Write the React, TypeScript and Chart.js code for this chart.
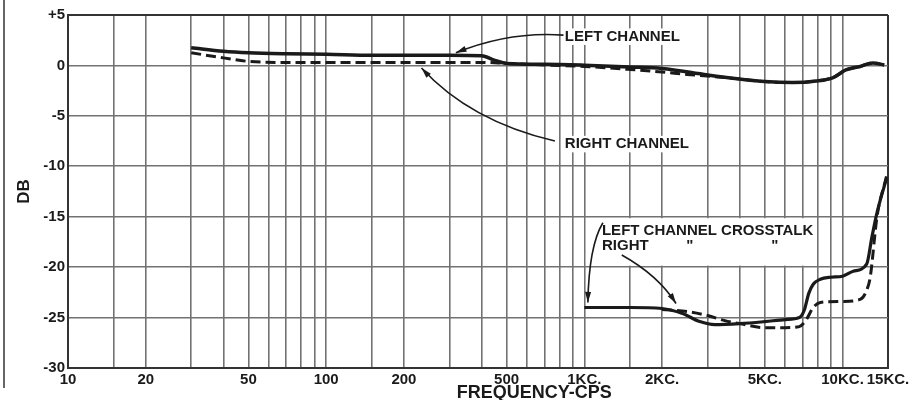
import React, { useEffect, useRef } from 'react';
import { Chart, registerables } from 'chart.js';

Chart.register(...registerables);

// ---- data ----
const leftFreq = [30, 40, 50, 70, 100, 150, 200, 300, 400, 450, 500, 700, 1000, 1500, 2000, 3000, 4000, 5000, 6400, 7900, 9200, 10300, 11700, 13100, 14500];
const leftDb = [1.75, 1.4, 1.25, 1.15, 1.1, 1.0, 1.0, 1.0, 0.95, 0.5, 0.2, 0.12, 0.02, -0.15, -0.3, -0.95, -1.35, -1.6, -1.7, -1.55, -1.2, -0.45, -0.1, 0.25, 0.05];

const rightFreq = [30, 40, 50, 70, 100, 200, 300, 400, 500, 700, 1000, 1500, 2000, 2500, 3000, 4000, 5000, 6400, 7900, 9200, 10300, 11700, 13100, 14500];
const rightDb = [1.25, 0.75, 0.4, 0.3, 0.3, 0.3, 0.3, 0.3, 0.2, 0.05, -0.1, -0.4, -0.65, -0.9, -1.05, -1.35, -1.6, -1.7, -1.55, -1.2, -0.45, -0.1, 0.25, 0.05];

const leftXtFreq = [1000, 1500, 2000, 2400, 2800, 3200, 4000, 5000, 6000, 6800, 7100, 7400, 7700, 8200, 9000, 10000, 11000, 12400, 13000, 13600, 14800];
const leftXtDb = [-24.0, -24.0, -24.1, -24.6, -25.4, -25.7, -25.6, -25.4, -25.2, -25.0, -24.3, -22.6, -21.7, -21.2, -21.0, -20.9, -20.4, -19.7, -17.0, -14.6, -11.2];

const rightXtFreq = [2000, 2500, 3000, 3500, 4000, 5000, 6000, 6800, 7200, 7700, 8200, 10000, 11700, 12400, 12800, 13600, 14800];
const rightXtDb = [-24.2, -24.4, -24.8, -25.3, -25.6, -26.0, -26.0, -25.9, -25.3, -24.0, -23.5, -23.4, -23.2, -22.3, -21.0, -15.0, -11.0];

const xGridValues = [10, 15, 20, 30, 40, 50, 60, 70, 80, 90, 100, 150, 200, 300, 400, 500, 600, 700, 800, 900, 1000, 1500, 2000, 3000, 4000, 5000, 6000, 7000, 8000, 9000, 10000, 15000];
const xTickValues = [10, 20, 50, 100, 200, 500, 1000, 2000, 5000, 10000, 15000];
const xTickLabels = ['10', '20', '50', '100', '200', '500', '1KC.', '2KC.', '5KC.', '10KC.', '15KC.'];
const yTickValues = [5, 0, -5, -10, -15, -20, -25, -30];
const yTickLabels = ['+5', '0', '-5', '-10', '-15', '-20', '-25', '-30'];

const FONT = '"Liberation Sans", Arial, sans-serif';
const INK = '#1a1a1a';
const GRID = '#727272';

const zip = (xs: number[], ys: number[]) => xs.map((x, i) => ({ x, y: ys[i] }));

type Pt = [number, number];

const annotationPlugin = {
  id: 'annotations',
  afterDatasetsDraw(chart: any) {
    const ctx: CanvasRenderingContext2D = chart.ctx;
    const xs = chart.scales.x;
    const ys = chart.scales.y;
    const P = (p: Pt): Pt => [xs.getPixelForValue(p[0]), ys.getPixelForValue(p[1])];

    ctx.save();
    ctx.fillStyle = INK;
    ctx.strokeStyle = INK;

    const text = (s: string, at: Pt, size = 15, bg = false) => {
      const [x, y] = P(at);
      ctx.font = `bold ${size}px ${FONT}`;
      ctx.textAlign = 'left';
      ctx.textBaseline = 'middle';
      if (bg) {
        const w = ctx.measureText(s).width;
        ctx.fillStyle = '#ffffff';
        ctx.fillRect(x - 3, y - size * 0.55, w + 6, size * 1.1);
      }
      ctx.fillStyle = INK;
      ctx.fillText(s, x, y);
    };

    const leader = (a: Pt, c: Pt, b: Pt) => {
      const [ax, ay] = P(a);
      const [cx, cy] = P(c);
      const [bx, by] = P(b);
      ctx.lineWidth = 1.6;
      ctx.beginPath();
      ctx.moveTo(ax, ay);
      ctx.quadraticCurveTo(cx, cy, bx, by);
      ctx.stroke();
      const ang = Math.atan2(by - cy, bx - cx);
      const len = 11;
      const half = 0.28;
      ctx.beginPath();
      ctx.moveTo(bx, by);
      ctx.lineTo(bx - len * Math.cos(ang - half), by - len * Math.sin(ang - half));
      ctx.lineTo(bx - len * Math.cos(ang + half), by - len * Math.sin(ang + half));
      ctx.closePath();
      ctx.fill();
    };

    // white cell behind the crosstalk legend
    {
      const [x1, y1] = P([1000, -15]);
      const [x2, y2] = P([8000, -20]);
      ctx.fillStyle = '#ffffff';
      ctx.fillRect(x1 + 1.5, y1 + 1.5, x2 - x1 - 3, y2 - y1 - 3);
    }

    text('LEFT CHANNEL', [840, 2.85], 15, true);
    leader([830, 3.0], [514, 3.4], [318, 1.25]);

    text('RIGHT CHANNEL', [840, -7.8], 15, true);
    leader([769, -7.5], [360, -5.5], [234, -0.25]);

    text('LEFT CHANNEL CROSSTALK', [1170, -16.4], 15);
    text('RIGHT', [1170, -17.85], 15);
    text('"', [2480, -17.85], 15);
    text('"', [5300, -17.85], 15);
    leader([1180, -15.6], [1041, -17.9], [1032, -23.5]);
    leader([1396, -18.8], [1928, -20.8], [2265, -23.6]);

    // x-axis title
    {
      const x = xs.getPixelForValue(640);
      const y = chart.chartArea.bottom + 25;
      ctx.font = `bold 18px ${FONT}`;
      ctx.textAlign = 'center';
      ctx.textBaseline = 'middle';
      ctx.fillStyle = INK;
      ctx.fillText('FREQUENCY-CPS', x, y);
    }
    ctx.restore();
  },
};

export default function App() {
  const ref = useRef<HTMLCanvasElement | null>(null);

  useEffect(() => {
    if (!ref.current) return;
    const chart = new Chart(ref.current, {
      type: 'line',
      data: {
        datasets: [
          { label: 'Left channel', data: zip(leftFreq, leftDb), borderColor: INK, borderWidth: 3.5, pointRadius: 0, cubicInterpolationMode: 'monotone', fill: false },
          { label: 'Right channel', data: zip(rightFreq, rightDb), borderColor: INK, borderWidth: 3, borderDash: [10, 5], pointRadius: 0, cubicInterpolationMode: 'monotone', fill: false },
          { label: 'Left channel crosstalk', data: zip(leftXtFreq, leftXtDb), borderColor: INK, borderWidth: 3.2, pointRadius: 0, cubicInterpolationMode: 'monotone', fill: false },
          { label: 'Right channel crosstalk', data: zip(rightXtFreq, rightXtDb), borderColor: INK, borderWidth: 3, borderDash: [10, 5], pointRadius: 0, cubicInterpolationMode: 'monotone', fill: false },
        ],
      } as any,
      options: {
        responsive: false,
        animation: false,
        events: [],
        layout: { padding: { left: 0, right: 33, top: 15, bottom: 0 } },
        plugins: { legend: { display: false }, tooltip: { enabled: false }, title: { display: false } },
        scales: {
          x: {
            type: 'logarithmic',
            min: 10,
            max: 15000,
            afterBuildTicks: (scale: any) => {
              scale.ticks = xGridValues.map((v) => ({ value: v }));
            },
            afterFit: (scale: any) => {
              scale.height = 32;
            },
            grid: {
              drawTicks: false,
              color: (c: any) => (c.tick && (c.tick.value === 15000 || c.tick.value === 10) ? '#333' : GRID),
              lineWidth: (c: any) => (c.tick && (c.tick.value === 15000 || c.tick.value === 10) ? 2 : 1.6),
            },
            border: { display: true, color: '#333', width: 2 },
            ticks: {
              autoSkip: false,
              maxRotation: 0,
              minRotation: 0,
              padding: 3,
              color: INK,
              font: { family: FONT, size: 15, weight: 'bold' },
              callback: (value: any) => {
                const i = xTickValues.indexOf(Number(value));
                return i >= 0 ? xTickLabels[i] : '';
              },
            },
          },
          y: {
            type: 'linear',
            min: -30,
            max: 5,
            afterBuildTicks: (scale: any) => {
              scale.ticks = yTickValues.map((v) => ({ value: v }));
            },
            afterFit: (scale: any) => {
              scale.width = 68;
            },
            grid: {
              drawTicks: false,
              color: (c: any) => (c.tick && (c.tick.value === 5 || c.tick.value === -30) ? '#333' : GRID),
              lineWidth: (c: any) => (c.tick && (c.tick.value === 5 || c.tick.value === -30) ? 2 : 1.6),
            },
            border: { display: true, color: '#333', width: 2 },
            ticks: {
              padding: 3,
              color: INK,
              font: { family: FONT, size: 15, weight: 'bold' },
              callback: (value: any) => {
                const i = yTickValues.indexOf(Number(value));
                return i >= 0 ? yTickLabels[i] : '';
              },
            },
            title: {
              display: true,
              text: 'DB',
              color: INK,
              font: { family: FONT, size: 17, weight: 'bold' },
              padding: { top: 14, bottom: 0 },
            },
          },
        },
      } as any,
      plugins: [annotationPlugin],
    });
    return () => chart.destroy();
  }, []);

  return (
    <div style={{ position: 'fixed', left: 0, top: 0, width: 921, height: 400, background: '#ffffff' }}>
      <div style={{ position: 'absolute', left: 3, top: 0, width: 2, height: 388, background: '#666' }} />
      <canvas ref={ref} width={921} height={400} style={{ position: 'absolute', left: 0, top: 0 }} />
    </div>
  );
}
